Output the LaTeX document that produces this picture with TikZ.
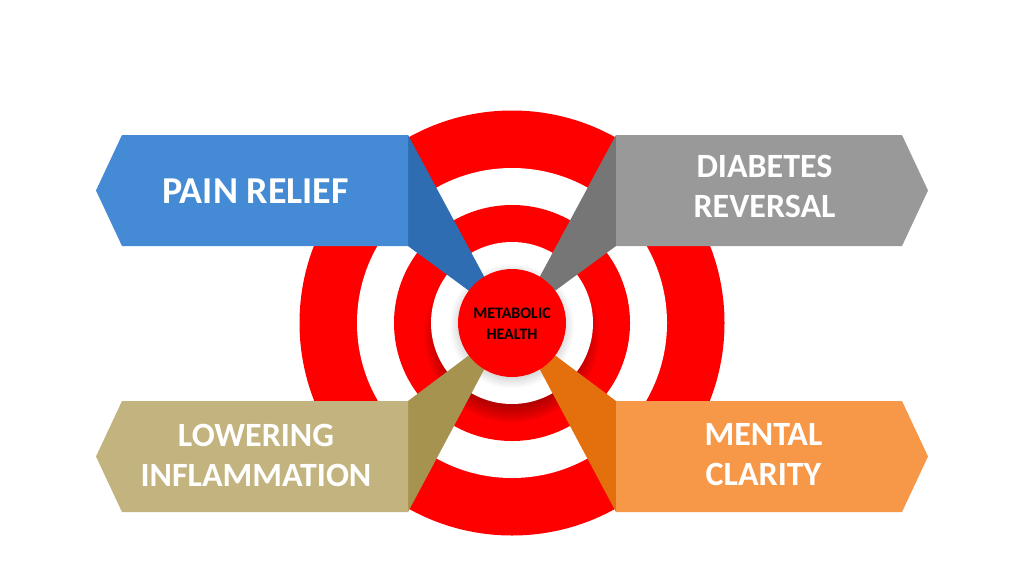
\documentclass[tikz,border=0pt]{standalone}
\usepackage{fontspec}
\setmainfont{Carlito}
\definecolor{tred}{HTML}{FF0000}
\definecolor{bluemain}{HTML}{458AD4}
\definecolor{bluedark}{HTML}{2E6DB2}
\definecolor{graymain}{HTML}{999999}
\definecolor{graydark}{HTML}{767676}
\definecolor{tanmain}{HTML}{C3B47F}
\definecolor{tandark}{HTML}{A6934F}
\definecolor{orgmain}{HTML}{F79848}
\definecolor{orgdark}{HTML}{E36F0D}
\tikzset{
  ring/.style={fill=#1,draw=none},
  label/.style={text=white,font=\bfseries\fontsize{34}{40}\selectfont,align=center,inner sep=0pt},
  biglabel/.style={label,font=\bfseries\fontsize{38}{40}\selectfont},
  core/.style={text=black,font=\bfseries\fontsize{16}{21}\selectfont,align=center,inner sep=0pt},
}
\begin{document}
\begin{tikzpicture}[x=1pt,y=-1pt]
\useasboundingbox (0,0) rectangle (1024,576);
\fill[white] (0,0) rectangle (1024,576);
\coordinate (c) at (512,323);
% target rings
\fill[ring=tred] (c) circle (212.5);
\fill[ring=white] (c) circle (155);
\fill[ring=tred] (c) circle (118);
% shadow of the white disc on the inner red ring
\begin{scope}
  \clip (c) circle (118);
  \foreach \r in {0,2,...,16}{
    \fill[black,opacity=0.035] ([yshift=-12pt]c) circle ({72+16-\r});
  }
\end{scope}
\fill[ring=white] (c) circle (81);
% shadow of the core disc
\begin{scope}
  \clip (c) circle (81);
  \foreach \r in {0,1.5,...,12}{
    \fill[black,opacity=0.018] ([yshift=-3pt]c) circle ({50+12-\r});
  }
\end{scope}
% panels
\fill[bluedark] (408,135) -- (486,280) -- (472,293) -- (408,246) -- cycle;
\fill[graydark] (616,135) -- (538,280) -- (552,293) -- (616,246) -- cycle;
\fill[tandark]  (408,512) -- (486,366) -- (472,353) -- (408,401) -- cycle;
\fill[orgdark]  (616,512) -- (538,366) -- (552,353) -- (616,401) -- cycle;
\fill[bluemain] (408,135) -- (122,135) -- (96,190.5) -- (122,246) -- (408,246) -- cycle;
\fill[graymain] (616,135) -- (902,135) -- (928,190.5) -- (902,246) -- (616,246) -- cycle;
\fill[tanmain]  (408,401) -- (122,401) -- (96,456.5) -- (122,512) -- (408,512) -- cycle;
\fill[orgmain]  (616,401) -- (902,401) -- (928,456.5) -- (902,512) -- (616,512) -- cycle;
% core
\node[circle,fill=tred,minimum size=108pt,inner sep=0pt] (core) at (c) {};
\node[core] (coret) at (512,323.5) {METABOLIC\\HEALTH};
\node[biglabel] (pain) at (255.5,191) {PAIN RELIEF};
\node[label] (diab) at (764.5,186) {DIABETES\\REVERSAL};
\node[label] (infl) at (256,455) {LOWERING\\INFLAMMATION};
\node[label] (ment) at (763.5,455) {MENTAL\\CLARITY};
\end{tikzpicture}
\end{document}
